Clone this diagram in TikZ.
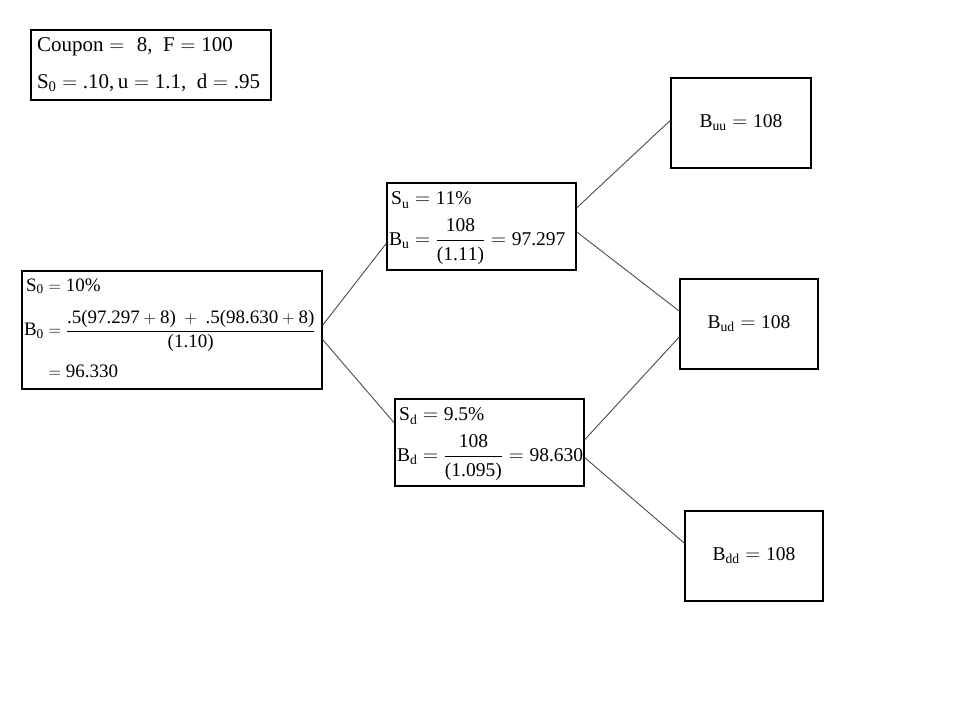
\documentclass[tikz,border=0pt]{standalone}
\usepackage{amsmath}
\usepackage[no-math]{fontspec}
\setmainfont{Liberation Serif}
% digits, signs and \mathrm in math from the text font
\DeclareSymbolFont{operators}{TU}{\rmdefault}{m}{n}
\DeclareSymbolFont{widesigns}{OT1}{cmr}{m}{n}
\DeclareMathSymbol{.}{\mathord}{operators}{`.}
\DeclareMathSymbol{,}{\mathpunct}{operators}{`,}
\DeclareMathSymbol{=}{\mathrel}{widesigns}{`=}
\DeclareMathSymbol{+}{\mathbin}{widesigns}{`+}
\usetikzlibrary{calc}
\tikzset{
	tree box/.style={draw, rectangle, line width=1.2pt, inner sep=3pt, align=left},
	info box/.style={tree box, text width=228pt, inner xsep=6pt, minimum height=70pt,
		font=\fontsize{21}{37}\selectfont},
	root box/.style={tree box, text width=296pt, inner xsep=2pt, minimum height=118pt,
		font=\fontsize{19}{22}\selectfont},
	mid box/.style={tree box, text width=185pt, inner xsep=2pt, minimum height=87pt,
		font=\fontsize{19.5}{23}\selectfont},
	leaf box/.style={tree box, align=center, minimum width=138pt, minimum height=90pt,
		font=\fontsize{19.5}{23}\selectfont},
	branch/.style={draw=black!70, line width=0.9pt}
}
\begin{document}
\begin{tikzpicture}[x=1pt,y=-1pt]
  \useasboundingbox (0,0) rectangle (960,720);
  % parameters
  \node[info box] (info) at (151,65)
    {$\mathrm{Coupon} = \ 8,\ \mathrm{F} = 100$\\
     $\mathrm{S}_0 = .10, \mathrm{u} = 1.1,\ \mathrm{d} = .95$};
  % the tree
  \node[root box] (root) at (172,330)
    {$\begin{aligned}
       \mathrm{S}_0 &= 10\%\\[9pt]
       \mathrm{B}_0 &= \dfrac{.5(97.297+8)\;+\;.5(98.630+8)}{(1.10)}\\[7pt]
       &= 96.330
     \end{aligned}$};
  \node[mid box] (up) at (481.5,226.5)
    {$\begin{aligned}
       \mathrm{S}_\mathrm{u} &= 11\%\\[3pt]
       \mathrm{B}_\mathrm{u} &= \dfrac{108}{(1.11)} = 97.297
     \end{aligned}$};
  \node[mid box] (down) at (489.5,442.5)
    {$\begin{aligned}
       \mathrm{S}_\mathrm{d} &= 9.5\%\\[3pt]
       \mathrm{B}_\mathrm{d} &= \dfrac{108}{(1.095)} = 98.630
     \end{aligned}$};
  \node[leaf box, minimum width=140pt] (upup) at (741,123)
    {$\mathrm{B}_\mathrm{uu} = 108$};
  \node[leaf box] (updown) at (749,324)
    {$\mathrm{B}_\mathrm{ud} = 108$};
  \node[leaf box] (downdown) at (754,556)
    {$\mathrm{B}_\mathrm{dd} = 108$};
  % branches
  \draw[branch] ($(root.north east)!.46!(root.south east)$) -- ($(up.north west)!.69!(up.south west)$);
  \draw[branch] ($(root.north east)!.58!(root.south east)$) -- ($(down.north west)!.28!(down.south west)$);
  \draw[branch] ($(up.north east)!.29!(up.south east)$) -- ($(upup.north west)!.47!(upup.south west)$);
  \draw[branch] ($(up.north east)!.56!(up.south east)$) -- ($(updown.north west)!.36!(updown.south west)$);
  \draw[branch] ($(down.north east)!.47!(down.south east)$) -- ($(updown.north west)!.64!(updown.south west)$);
  \draw[branch] ($(down.north east)!.67!(down.south east)$) -- ($(downdown.north west)!.36!(downdown.south west)$);
\end{tikzpicture}
\end{document}
